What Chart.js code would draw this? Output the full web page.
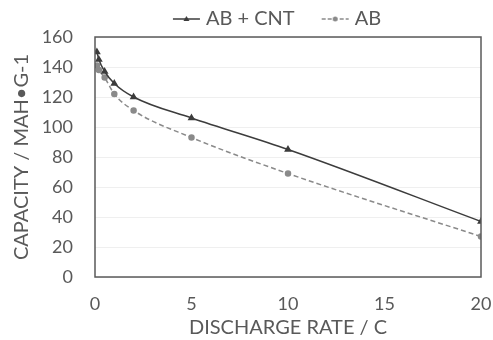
<!DOCTYPE html>
<html><head><meta charset="utf-8">
<script src="https://cdn.jsdelivr.net/npm/chart.js@4"></script>
<style>html,body{margin:0;padding:0;background:#fff}#w{width:493px;height:340px}</style>
</head><body><div id="w"><canvas id="c"></canvas></div>
<script>
const rates = [0.1, 0.2, 0.5, 1, 2, 5, 10, 20];
const abCnt = [150, 145, 137, 129, 120, 106, 85, 37];
const ab = [141, 138, 133, 122, 111, 93, 69, 27];
const seriesNames = ['AB + CNT', 'AB'];
const xTicks = [0, 5, 10, 15, 20];
const yTicks = [0, 20, 40, 60, 80, 100, 120, 140, 160];

function legendIcon(color, dash, marker) {
  const cv = document.createElement('canvas');
  cv.width = 38; cv.height = 10;
  const g = cv.getContext('2d');
  g.strokeStyle = color; g.lineWidth = 1.5; g.setLineDash(dash);
  g.beginPath(); g.moveTo(10, 5); g.lineTo(37, 5); g.stroke();
  g.setLineDash([]); g.fillStyle = color;
  g.beginPath();
  if (marker === 'triangle') { g.moveTo(23.5, 2); g.lineTo(26.5, 7); g.lineTo(20.5, 7); g.closePath(); }
  else { g.arc(23.5, 5, 2.5, 0, Math.PI * 2); }
  g.fill();
  return cv;
}

const boxPlugin = {
  id: 'box',
  afterLayout(chart) {
    const lg = chart.legend;
    if (lg) { lg.top -= 13; lg.left += 34; lg.right += 34; }
  },
  afterDraw(chart) {
    const a = chart.chartArea, g = chart.ctx;
    g.save(); g.strokeStyle = '#5a5a5a'; g.lineWidth = 1.5;
    g.strokeRect(a.left, a.top, a.right - a.left, a.bottom - a.top);
    g.restore();
  }
};

const font = "Lato, 'Open Sans', sans-serif";
new Chart(document.getElementById('c'), {
  type: 'line',
  data: {
    datasets: [
      { label: seriesNames[0], data: rates.map((x, i) => ({x, y: abCnt[i]})),
        borderColor: '#3c3c3c', backgroundColor: '#3c3c3c', borderWidth: 1.5,
        pointStyle: 'triangle', pointRadius: 3, tension: 0.3, cubicInterpolationMode: 'monotone' },
      { label: seriesNames[1], data: rates.map((x, i) => ({x, y: ab[i]})),
        borderColor: '#8a8a8a', backgroundColor: '#8a8a8a', borderWidth: 1.5, borderDash: [5, 3],
        pointStyle: 'circle', pointRadius: 2.5, tension: 0.3, cubicInterpolationMode: 'monotone' }
    ]
  },
  options: {
    responsive: true, maintainAspectRatio: false, animation: false,
    layout: { padding: { left: 0, right: 12, top: 0, bottom: 0 } },
    plugins: {
      legend: {
        position: 'top', maxHeight: 37,
        labels: {
          usePointStyle: true, pointStyleWidth: 28, color: '#595959', font: { family: font, size: 20 }, boxHeight: 10, padding: 22,
          generateLabels(chart) {
            return [
              { text: seriesNames[0], datasetIndex: 0, pointStyle: legendIcon('#3c3c3c', [], 'triangle'), fontColor: '#595959', strokeStyle: 'transparent', lineWidth: 0 },
              { text: seriesNames[1], datasetIndex: 1, pointStyle: legendIcon('#8a8a8a', [4, 2], 'circle'), fontColor: '#595959', strokeStyle: 'transparent', lineWidth: 0 }
            ];
          }
        }
      },
      tooltip: { enabled: false }
    },
    scales: {
      x: {
        type: 'linear', min: 0, max: 20,
        afterBuildTicks(s) { s.ticks = xTicks.map(v => ({value: v})); },
        afterFit(s) { s.height = 63; s.paddingLeft = 0; s.paddingRight = 0; },
        grid: { display: false },
        border: { display: false },
        ticks: { color: '#595959', font: { family: font, size: 18 }, padding: 8 },
        title: { display: true, text: 'DISCHARGE RATE / C', color: '#595959', font: { family: font, size: 20 }, padding: { top: 0, bottom: 0 } }
      },
      y: {
        min: 0, max: 160,
        afterBuildTicks(s) { s.ticks = yTicks.map(v => ({value: v})); },
        afterFit(s) { s.width = 95; s.paddingTop = 0; s.paddingBottom = 0; },
        grid: { color: '#efefef', drawTicks: false },
        border: { display: false },
        ticks: { color: '#595959', font: { family: font, size: 18 }, padding: 22 },
        title: { display: true, text: 'CAPACITY / MAH•G-1', color: '#595959', font: { family: font, size: 20 }, padding: { top: 10, bottom: 0 } }
      }
    }
  },
  plugins: [boxPlugin]
});
</script></body></html>
